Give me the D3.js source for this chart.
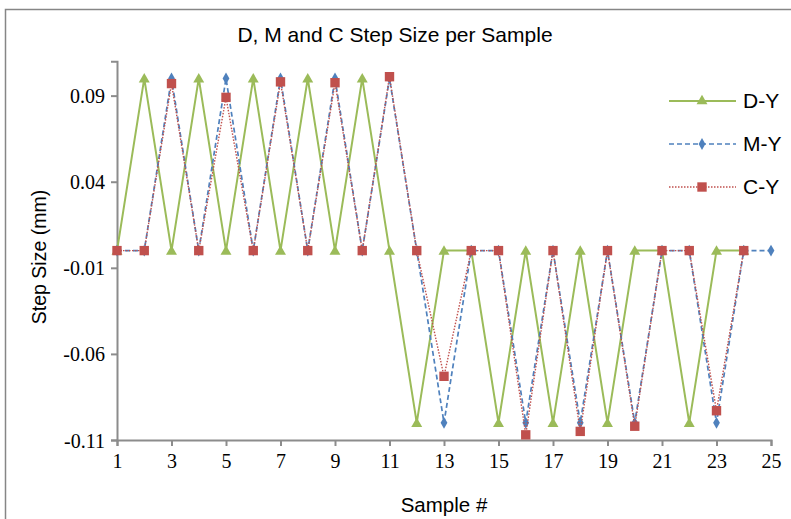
<!DOCTYPE html>
<html>
<head>
<meta charset="utf-8">
<script src="https://cdn.jsdelivr.net/npm/d3@7/dist/d3.min.js"></script>
<style>
  html, body { margin: 0; padding: 0; background: #fff; }
  svg { display: block; }
  .serif { font-family: "Liberation Serif", "Times New Roman", serif; }
  .sans { font-family: "Liberation Sans", Arial, sans-serif; }
</style>
</head>
<body>
<svg id="chart" width="791" height="519"></svg>
<script>
// Sample numbers and step sizes (mm) for each series
const samples = d3.range(1, 26);
const dY = [0, 0.1, 0, 0.1, 0, 0.1, 0, 0.1, 0, 0.1, 0, -0.1, 0, 0, -0.1, 0, -0.1, 0, -0.1, 0, 0, -0.1, 0, 0];
const mY = [0, 0, 0.1, 0, 0.1, 0, 0.1, 0, 0.1, 0, 0.1, 0, -0.1, 0, 0, -0.1, 0, -0.1, 0, -0.1, 0, 0, -0.1, 0, 0];
const cY = [0, 0, 0.097, 0, 0.089, 0, 0.098, 0, 0.0975, 0, 0.101, 0, -0.073, 0, 0, -0.107, 0, -0.105, 0, -0.102, 0, 0, -0.093, 0];
const yTicks = [-0.11, -0.06, -0.01, 0.04, 0.09];
const xTicks = [1, 3, 5, 7, 9, 11, 13, 15, 17, 19, 21, 23, 25];
const seriesNames = ["D-Y", "M-Y", "C-Y"];

const series = [
  { name: seriesNames[0], values: dY, color: "#9BBB59", width: 2, dash: null, marker: "triangle" },
  { name: seriesNames[1], values: mY, color: "#4F81BD", width: 1.7, dash: "5,3", marker: "diamond" },
  { name: seriesNames[2], values: cY, color: "#C0504D", width: 1.4, dash: "1.5,1.5", marker: "square" }
];

const svg = d3.select("#chart");

// Chart frame
svg.append("rect")
  .attr("x", 5.5).attr("y", 9.5)
  .attr("width", 800).attr("height", 520)
  .attr("fill", "#fff").attr("stroke", "#868686").attr("stroke-width", 1.5);

const x = d3.scaleLinear().domain([1, 25]).range([117, 771]);
const y = d3.scaleLinear().domain([-0.11, 0.11]).range([440, 61.2]);

// Axes (hyphen-minus labels)
const fmtY = d => d3.format(".2f")(d).replace("\u2212", "-");
const axisColor = "#8c8c8c";
const gx = svg.append("g").attr("transform", `translate(0,${y(-0.11)})`)
  .call(d3.axisBottom(x).tickValues(xTicks).tickSize(6).tickPadding(5).tickFormat(d3.format("d")));
const gy = svg.append("g").attr("transform", `translate(${x(1)},0)`)
  .call(d3.axisLeft(y).tickValues(yTicks).tickSize(6).tickPadding(6).tickFormat(fmtY));

[gx, gy].forEach(g => {
  g.attr("font-family", null).attr("font-size", null);
  g.select(".domain").attr("stroke", axisColor).attr("stroke-width", 2);
  g.selectAll(".tick line").attr("stroke", axisColor).attr("stroke-width", 2);
  g.selectAll(".tick text")
    .attr("class", "serif")
    .attr("fill", "#000")
    .attr("font-size", 20);
});
gy.selectAll(".tick text").attr("dy", "0.35em");
gx.selectAll(".tick text").attr("dy", "0.85em");

// Marker shapes
const markerPath = {
  triangle: d3.symbol().type(d3.symbolTriangle).size(52)(),
  diamond: d3.symbol().type(d3.symbolDiamond).size(40)(),
  square: d3.symbol().type(d3.symbolSquare).size(88)()
};

const line = d3.line()
  .x((d, i) => x(samples[i]))
  .y(d => y(d));

series.forEach(s => {
  const g = svg.append("g");
  g.append("path")
    .attr("d", line(s.values))
    .attr("fill", "none")
    .attr("stroke", s.color)
    .attr("stroke-width", s.width)
    .attr("stroke-dasharray", s.dash);
  g.selectAll("path.mk").data(s.values).join("path")
    .attr("class", "mk")
    .attr("d", markerPath[s.marker])
    .attr("transform", (d, i) => `translate(${x(samples[i])},${y(d) + (s.marker === "triangle" ? 1 : 0)})`)
    .attr("fill", s.color);
});

// Legend
const legend = svg.append("g");
series.forEach((s, i) => {
  const ly = 101 + i * 43;
  legend.append("line")
    .attr("x1", 669).attr("x2", 736).attr("y1", ly).attr("y2", ly)
    .attr("stroke", s.color).attr("stroke-width", s.width)
    .attr("stroke-dasharray", s.dash);
  legend.append("path")
    .attr("d", markerPath[s.marker])
    .attr("transform", `translate(702,${ly})`)
    .attr("fill", s.color);
  legend.append("text")
    .attr("class", "sans")
    .attr("x", 743).attr("y", ly).attr("dy", "0.35em")
    .attr("font-size", 21)
    .text(s.name);
});

// Titles
svg.append("text")
  .attr("class", "sans")
  .attr("x", 395).attr("y", 42)
  .attr("text-anchor", "middle")
  .attr("font-size", 21)
  .text("D, M and C Step Size per Sample");

svg.append("text")
  .attr("class", "sans")
  .attr("transform", "translate(46,257) rotate(-90)")
  .attr("text-anchor", "middle")
  .attr("font-size", 19.5)
  .text("Step Size (mm)");

svg.append("text")
  .attr("class", "sans")
  .attr("x", 444).attr("y", 512)
  .attr("text-anchor", "middle")
  .attr("font-size", 20.5)
  .text("Sample #");
</script>
</body>
</html>
